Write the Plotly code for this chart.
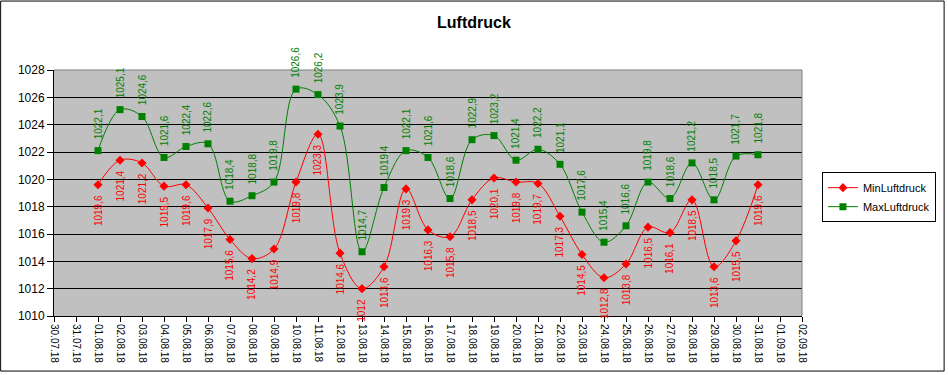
import plotly.graph_objects as go
import pandas as pd

dates = pd.date_range("2018-08-01", "2018-08-31", freq="D")
min_vals = [1019.6, 1021.4, 1021.2, 1019.5, 1019.6, 1017.9, 1015.6, 1014.2, 1014.9, 1019.8,
            1023.3, 1014.6, 1012.0, 1013.6, 1019.3, 1016.3, 1015.8, 1018.5, 1020.1, 1019.8,
            1019.7, 1017.3, 1014.5, 1012.8, 1013.8, 1016.5, 1016.1, 1018.5, 1013.6, 1015.5,
            1019.6]
max_vals = [1022.1, 1025.1, 1024.6, 1021.6, 1022.4, 1022.6, 1018.4, 1018.8, 1019.8, 1026.6,
            1026.2, 1023.9, 1014.7, 1019.4, 1022.1, 1021.6, 1018.6, 1022.9, 1023.2, 1021.4,
            1022.2, 1021.1, 1017.6, 1015.4, 1016.6, 1019.8, 1018.6, 1021.2, 1018.5, 1021.7,
            1021.8]
y_ticks = [1010, 1012, 1014, 1016, 1018, 1020, 1022, 1024, 1026, 1028]

RED = "#FF0000"
GREEN = "#008000"
FONT = "Liberation Sans, Arial, sans-serif"
LABEL_SIZE = 10


def fmt(v):
    if abs(v - round(v)) < 1e-9:
        return str(int(round(v)))
    return f"{v:.1f}".replace(".", ",")


def text_width(s, size=LABEL_SIZE):
    w = 0.0
    for ch in s:
        w += 0.278 if ch in ",." else 0.556
    return w * size


fig = go.Figure()
fig.add_trace(go.Scatter(
    x=dates, y=min_vals, name="MinLuftdruck", mode="lines+markers",
    line=dict(color=RED, width=1, shape="spline", smoothing=1),
    marker=dict(symbol="diamond", size=7, color=RED),
))
fig.add_trace(go.Scatter(
    x=dates, y=max_vals, name="MaxLuftdruck", mode="lines+markers",
    line=dict(color=GREEN, width=1, shape="spline", smoothing=1),
    marker=dict(symbol="square", size=7, color=GREEN),
))

GAP = 11
annotations = []
for d, v in zip(dates, min_vals):
    t = fmt(v)
    annotations.append(dict(x=d, y=v, xref="x", yref="y", text=t, showarrow=False,
                            textangle=-90, yanchor="middle", xanchor="center",
                            yshift=-(GAP + text_width(t) / 2),
                            font=dict(color=RED, size=LABEL_SIZE, family=FONT)))
for d, v in zip(dates, max_vals):
    t = fmt(v)
    annotations.append(dict(x=d, y=v, xref="x", yref="y", text=t, showarrow=False,
                            textangle=-90, yanchor="middle", xanchor="center",
                            yshift=(GAP + text_width(t) / 2),
                            font=dict(color=GREEN, size=LABEL_SIZE, family=FONT)))
annotations.append(dict(x=(475 - 54) / 750, y=(318 - 22) / 248, xref="paper", yref="paper",
                        text="<b>Luftdruck</b>", showarrow=False, xanchor="center",
                        yanchor="middle", font=dict(size=16, color="black", family=FONT)))

shapes = [
    dict(type="rect", xref="paper", yref="paper",
         x0=(0.5 - 54) / 750, x1=(946.5 - 54) / 750,
         y0=(318 - 373.5) / 248, y1=(318 - 0.5) / 248,
         line=dict(color="black", width=1), fillcolor="rgba(0,0,0,0)", layer="below"),
    dict(type="line", xref="paper", yref="paper", x0=0, x1=1, y0=1, y1=1,
         line=dict(color="#808080", width=1), layer="above"),
    dict(type="line", xref="paper", yref="paper", x0=1, x1=1, y0=0, y1=1,
         line=dict(color="#808080", width=1), layer="above"),
]

fig.update_layout(
    width=948, height=375,
    margin=dict(l=54, r=948 - 804, t=70, b=375 - 318, pad=0),
    paper_bgcolor="white", plot_bgcolor="#C0C0C0",
    font=dict(family=FONT, color="black"),
    showlegend=True,
    legend=dict(x=(824 - 54) / 750, y=(318 - 173) / 248, xanchor="left", yanchor="top",
                bordercolor="black", borderwidth=1, bgcolor="white",
                font=dict(size=11, family=FONT), tracegroupgap=0),
    annotations=annotations,
    shapes=shapes,
)
fig.update_xaxes(
    type="date", range=["2018-07-30", "2018-09-02"], dtick=86400000, tick0="2018-07-30",
    tickformat="%d.%m.%y", tickangle=90, ticks="outside", ticklen=5, tickcolor="black",
    showgrid=False, showline=True, linecolor="black", linewidth=1, zeroline=False,
    tickfont=dict(size=10, family=FONT, color="black"),
)
fig.update_yaxes(
    range=[1010, 1028], tickvals=y_ticks, ticktext=[str(t) for t in y_ticks],
    ticks="outside", ticklen=6, tickcolor="black",
    showgrid=True, gridcolor="black", gridwidth=1,
    showline=True, linecolor="black", linewidth=1, zeroline=False,
    tickfont=dict(size=12, family=FONT, color="black"),
)

fig.write_html("out.html")
